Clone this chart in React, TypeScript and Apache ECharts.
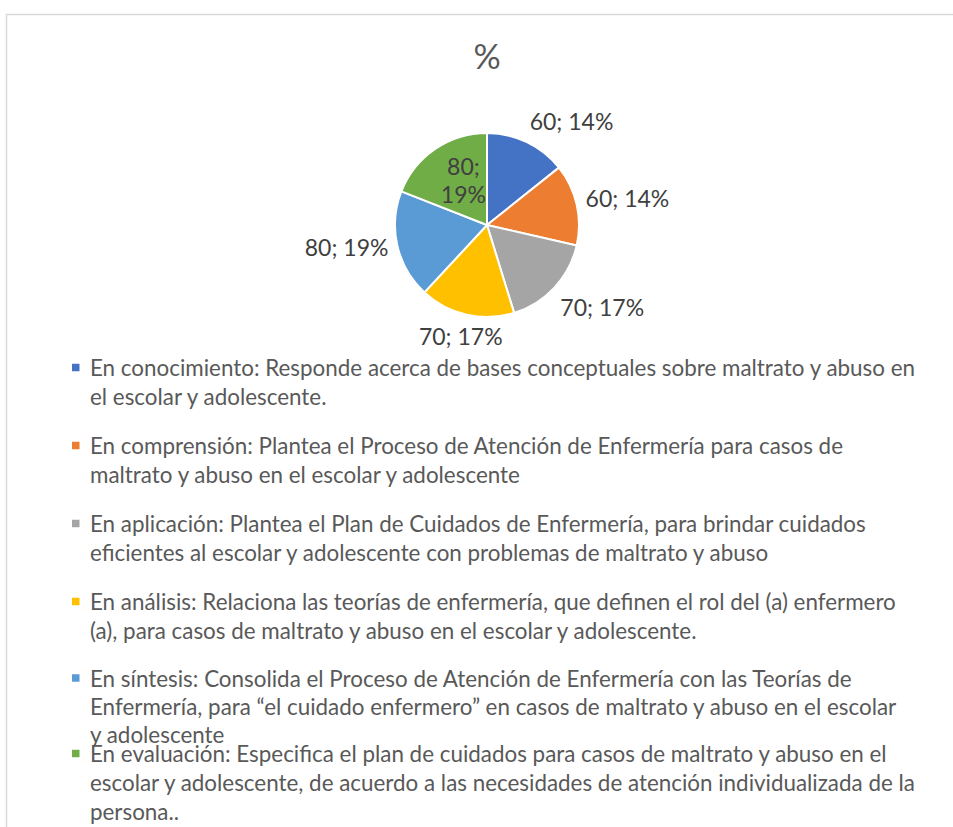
import React, { useEffect, useRef } from "react";
import * as echarts from "echarts";

const titleText = "%";

const legendLines: string[][] = [
  ["En conocimiento: Responde acerca de bases conceptuales sobre maltrato y abuso en", "el escolar y adolescente."],
  ["En comprensión: Plantea el Proceso de Atención de Enfermería para casos de", "maltrato y abuso en el escolar y adolescente"],
  ["En aplicación: Plantea el Plan de Cuidados de Enfermería, para brindar cuidados", "eficientes al escolar y adolescente con problemas de maltrato y abuso"],
  ["En análisis: Relaciona las teorías de enfermería, que definen el rol del (a) enfermero", "(a), para casos de maltrato y abuso en el escolar y adolescente."],
  ["En síntesis: Consolida el Proceso de Atención de Enfermería con las Teorías de", "Enfermería, para “el cuidado enfermero” en casos de maltrato y abuso en el escolar", "y adolescente"],
  ["En evaluación: Especifica el plan de cuidados para casos de maltrato y abuso en el", "escolar y adolescente, de acuerdo a las necesidades de atención individualizada de la", "persona.."],
];

const categories = legendLines.map((l) => l.join(" "));
const values = [60, 60, 70, 70, 80, 80];
const sliceColors = ["#4472C4", "#ED7D31", "#A5A5A5", "#FFC000", "#5B9BD5", "#70AD47"];

// label nudges (style, not data)
const LABEL_SHIFT: [number, number][] = [
  [-4, -18],
  [0, -6],
  [-2, 17],
  [42, 17],
  [0, 1],
  [4, -5],
];

const FONT = "Lato";
const LEGEND_SIZE = 22.4;

// legend groups: [first index, last index, top, line height]
const LEGEND_GROUPS: [number, number, number, number][] = [
  [0, 3, 348, 29],
  [4, 4, 659, 28],
  [5, 5, 734, 29],
];

export default function App() {
  const ref = useRef<HTMLDivElement>(null);

  useEffect(() => {
    document.body.style.margin = "0";
    if (!ref.current) return;
    const chart = echarts.init(ref.current, undefined, { renderer: "svg" });

    const makeIcon = (h: number, lh: number) => {
      const c = lh / 2;
      const a = c - 3.75;
      const b = c + 3.75;
      return `path://M0,0L0,0M13,${h}L13,${h}M0,${a}L7.5,${a}L7.5,${b}L0,${b}Z`;
    };

    const formatter = (name: string) => {
      const i = categories.indexOf(name);
      return legendLines[i].map((l) => `{a|${l}}`).join("\n");
    };

    const legends = LEGEND_GROUPS.map(([s, e, top, lh]) => {
      const nLines = legendLines[s].length;
      const h = nLines * lh;
      return {
        orient: "vertical",
        left: 67,
        top,
        height: 600,
        itemGap: 20,
        itemWidth: 13,
        itemHeight: h,
        icon: makeIcon(h, lh),
        itemStyle: { borderWidth: 0 },
        data: categories.slice(s, e + 1),
        formatter,
        textStyle: {
          fontFamily: FONT,
          fontSize: LEGEND_SIZE,
          color: "#595959",
          rich: {
            a: { fontFamily: FONT, fontSize: LEGEND_SIZE, color: "#595959", lineHeight: lh },
          },
        },
      };
    });

    const option: any = {
      animation: false,
      backgroundColor: "#ffffff",
      title: {
        text: titleText,
        left: 482,
        textAlign: "center",
        top: 33,
        textStyle: {
          fontFamily: FONT,
          fontSize: 34,
          fontWeight: "normal",
          color: "#595959",
        },
      },
      graphic: [
        {
          type: "rect",
          shape: { x: 6.5, y: 14.5, width: 1200, height: 1200 },
          style: { fill: "none", stroke: "#D9D9D9", lineWidth: 1.5 },
          silent: true,
          z: -1,
        },
      ],
      legend: legends,
      series: [
        {
          type: "pie",
          center: [487, 225],
          radius: 92,
          startAngle: 90,
          clockwise: true,
          percentPrecision: 0,
          avoidLabelOverlap: false,
          itemStyle: { borderColor: "#ffffff", borderWidth: 2 },
          label: {
            show: true,
            position: "outside",
            formatter: "{c}; {d}%",
            fontFamily: FONT,
            fontSize: 23,
            color: "#404040",
          },
          labelLine: { show: false, length: 4, length2: 0 },
          labelLayout: (p: any) => {
            const s = LABEL_SHIFT[p.dataIndex] || [0, 0];
            return { dx: s[0], dy: s[1] };
          },
          emphasis: { disabled: true },
          data: categories.map((name, i) => {
            const item: any = {
              name,
              value: values[i],
              itemStyle: { color: sliceColors[i] },
            };
            if (i === categories.length - 1) {
              item.label = {
                position: "inside",
                formatter: "{c};\n{d}%",
                lineHeight: 28,
              };
            }
            return item;
          }),
        },
      ],
    };

    chart.setOption(option);
    return () => chart.dispose();
  }, []);

  return <div ref={ref} style={{ width: 953, height: 827 }} />;
}
